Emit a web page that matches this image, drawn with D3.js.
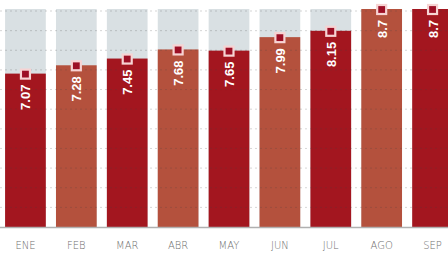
<!DOCTYPE html>
<html>
<head>
<meta charset="utf-8">
<script src="https://cdn.jsdelivr.net/npm/d3@7"></script>
<style>
  body { margin: 0; background: #fff; }
  svg { display: block; }
</style>
</head>
<body>
<script>
const months = ["ENE", "FEB", "MAR", "ABR", "MAY", "JUN", "JUL", "AGO", "SEP"];
const values = [7.07, 7.28, 7.45, 7.68, 7.65, 7.99, 8.15, 8.7, 8.7];
const labels = ["7.07", "7.28", "7.45", "7.68", "7.65", "7.99", "8.15", "8.7", "8.7"];

const width = 448, height = 254;
const axisY = 227, topY = 9;

const svg = d3.select("body").append("svg")
    .attr("width", width)
    .attr("height", height);

const x = d3.scaleBand()
    .domain(months)
    .range([0, 458])
    .paddingInner(0.2)
    .paddingOuter(0.1);

// not zero based, the original chart stretches the top part
const y = d3.scaleLinear()
    .domain([3.2, 8.7])
    .range([axisY, topY]);

const grid = d3.scaleLinear().domain([0, 11]).range([axisY, 11]);

const colors = ["#a3161f", "#b4513d"];

// grey background columns
svg.append("g")
  .selectAll("rect")
  .data(months)
  .join("rect")
    .attr("x", d => x(d))
    .attr("y", topY)
    .attr("width", x.bandwidth())
    .attr("height", axisY - topY)
    .attr("fill", "#d9e0e3");

svg.append("g")
  .selectAll("rect")
  .data(values)
  .join("rect")
    .attr("x", (d, i) => x(months[i]))
    .attr("y", d => y(d))
    .attr("width", x.bandwidth())
    .attr("height", d => axisY - y(d))
    .attr("fill", (d, i) => colors[i % 2]);

// dashed grid on top of everything
svg.append("g")
  .selectAll("line")
  .data(d3.range(1, 12))
  .join("line")
    .attr("x1", 0)
    .attr("x2", width)
    .attr("y1", d => grid(d))
    .attr("y2", d => grid(d))
    .attr("stroke", "rgba(70,70,70,0.22)")
    .attr("stroke-width", 1)
    .attr("stroke-dasharray", "2,3");

// axis line
svg.append("line")
    .attr("x1", 0).attr("x2", width)
    .attr("y1", axisY + 0.5).attr("y2", axisY + 0.5)
    .attr("stroke", "#b0b0b0")
    .attr("stroke-width", 1.5);

// markers
svg.append("g")
  .selectAll("rect")
  .data(values)
  .join("rect")
    .attr("x", (d, i) => x(months[i]) + x.bandwidth() / 2 - 4.5)
    .attr("y", d => y(d) - 4)
    .attr("width", 9)
    .attr("height", 9)
    .attr("fill", "#9c0f25")
    .attr("stroke", "#f7d3d3")
    .attr("stroke-width", 2.2);

// rotated value labels, reading bottom to top
svg.append("g")
  .selectAll("text")
  .data(values)
  .join("text")
    .attr("transform", (d, i) => `translate(${x(months[i]) + x.bandwidth() / 2 + 5},${y(d) + 11}) rotate(-90)`)
    .attr("text-anchor", "end")
    .attr("fill", "#fff")
    .style("font-family", "'Liberation Sans', Arial, sans-serif")
    .style("font-weight", "bold")
    .style("font-size", "13px")
    .text((d, i) => labels[i]);

// month labels
svg.append("g")
  .selectAll("text")
  .data(months)
  .join("text")
    .attr("x", d => x(d) + x.bandwidth() / 2)
    .attr("y", 249)
    .attr("text-anchor", "middle")
    .attr("fill", "#6f6f6f")
    .style("font-family", "'DejaVu Sans', sans-serif")
    .style("font-size", "10px")
    .style("font-weight", "300")
    .text(d => d);
</script>
</body>
</html>
